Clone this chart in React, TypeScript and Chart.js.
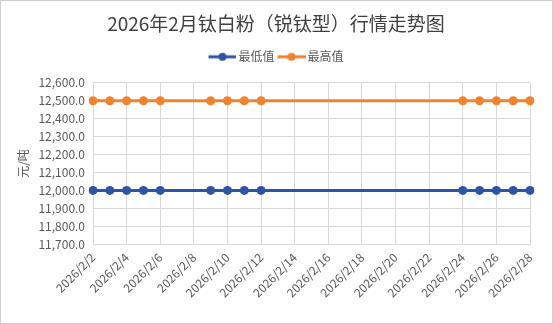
import React, { useEffect, useRef } from "react";
import { Chart, registerables } from "chart.js";

Chart.register(...registerables);

const categories = [
  "2026/2/2", "2026/2/3", "2026/2/4", "2026/2/5", "2026/2/6", "2026/2/7", "2026/2/8",
  "2026/2/9", "2026/2/10", "2026/2/11", "2026/2/12", "2026/2/13", "2026/2/14", "2026/2/15",
  "2026/2/16", "2026/2/17", "2026/2/18", "2026/2/19", "2026/2/20", "2026/2/21", "2026/2/22",
  "2026/2/23", "2026/2/24", "2026/2/25", "2026/2/26", "2026/2/27", "2026/2/28",
];

const lowValues = [
  12000, 12000, 12000, 12000, 12000, null, null,
  12000, 12000, 12000, 12000, null, null, null,
  null, null, null, null, null, null, null,
  null, 12000, 12000, 12000, 12000, 12000,
];

const highValues = [
  12500, 12500, 12500, 12500, 12500, null, null,
  12500, 12500, 12500, 12500, null, null, null,
  null, null, null, null, null, null, null,
  null, 12500, 12500, 12500, 12500, 12500,
];

const titleText = "2026年2月钛白粉（锐钛型）行情走势图";
const seriesNames = ["最低值", "最高值"];
const yTitle = "元/吨";

const BLUE = "#2F54A3";
const ORANGE = "#F0832F";
const TEXT = "#595959";
const GRID = "#d9d9d9";
const FONT = "'Noto Sans CJK SC', 'Noto Sans', sans-serif";

function legendIcon(color: string): HTMLCanvasElement {
  const c = document.createElement("canvas");
  c.width = 32;
  c.height = 10;
  const ctx = c.getContext("2d")!;
  ctx.strokeStyle = color;
  ctx.lineWidth = 3;
  ctx.beginPath();
  ctx.moveTo(4, 5);
  ctx.lineTo(32, 5);
  ctx.stroke();
  ctx.fillStyle = color;
  ctx.beginPath();
  ctx.arc(18, 5, 4, 0, Math.PI * 2);
  ctx.fill();
  return c;
}

const headerTweak = {
  id: "headerTweak",
  afterInit(chart: any) {
    const legend = chart.legend;
    if (!legend) return;
    const fit = legend.fit;
    legend.fit = function () {
      fit.call(this);
      this.height += 15;
    };
  },
  afterLayout(chart: any) {
    const shift = 3;
    for (const b of [chart.titleBlock, chart.legend]) {
      if (b) {
        b.left += shift;
        b.right += shift;
      }
    }
    if (chart.legend) {
      chart.legend.top += 5;
      chart.legend.bottom += 5;
    }
  },
};

export default function App() {
  const ref = useRef<HTMLCanvasElement | null>(null);

  useEffect(() => {
    if (!ref.current) return;
    const iconLow = legendIcon(BLUE);
    const iconHigh = legendIcon(ORANGE);
    const chart = new Chart(ref.current, {
      type: "line",
      data: {
        labels: categories,
        datasets: [
          {
            label: seriesNames[0],
            data: lowValues,
            borderColor: BLUE,
            backgroundColor: BLUE,
            borderWidth: 3,
            pointRadius: 4.5,
            pointStyle: "circle",
            pointBackgroundColor: BLUE,
            pointBorderWidth: 0,
            spanGaps: true,
          } as any,
          {
            label: seriesNames[1],
            data: highValues,
            borderColor: ORANGE,
            backgroundColor: ORANGE,
            borderWidth: 3,
            pointRadius: 4.5,
            pointStyle: "circle",
            pointBackgroundColor: ORANGE,
            pointBorderWidth: 0,
            spanGaps: true,
          } as any,
        ],
      },
      plugins: [headerTweak],
      options: {
        animation: false,
        responsive: true,
        maintainAspectRatio: false,
        layout: { padding: { left: 15, right: 22, top: 4, bottom: 17 } },
        plugins: {
          title: {
            display: true,
            text: titleText,
            color: "#404040",
            font: { family: FONT, size: 19, weight: "normal" },
            padding: { top: 7, bottom: 8 },
          },
          legend: {
            position: "top",
            labels: {
              color: TEXT,
              font: { family: FONT, size: 12 },
              usePointStyle: true,
              pointStyleWidth: 24,
              boxHeight: 10,
              padding: 3,
              generateLabels: () => [
                { text: seriesNames[0], pointStyle: iconLow, fillStyle: BLUE, strokeStyle: BLUE, lineWidth: 0, fontColor: TEXT, datasetIndex: 0 } as any,
                { text: seriesNames[1], pointStyle: iconHigh, fillStyle: ORANGE, strokeStyle: ORANGE, lineWidth: 0, fontColor: TEXT, datasetIndex: 1 } as any,
              ],
            },
          },
          tooltip: { enabled: false },
        },
        scales: {
          x: {
            offset: false,
            grid: {
              color: (ctx: any) => (ctx.index % 2 === 0 ? GRID : "rgba(0,0,0,0)"),
              drawTicks: false,
            },
            border: { color: GRID },
            ticks: {
              autoSkip: false,
              maxRotation: 45,
              minRotation: 45,
              padding: 6,
              color: TEXT,
              font: { family: FONT, size: 12 },
              callback: (_v: any, i: number) => (i % 2 === 0 ? categories[i] : ""),
            },
          },
          y: {
            min: 11700,
            max: 12600,
            grid: { color: GRID, drawTicks: false },
            border: { color: GRID },
            title: {
              display: true,
              text: yTitle,
              color: TEXT,
              font: { family: FONT, size: 12 },
              padding: { top: 0, bottom: 0 },
            },
            ticks: {
              stepSize: 100,
              padding: 8,
              color: TEXT,
              font: { family: FONT, size: 12 },
              callback: (v: any) =>
                Number(v).toLocaleString("en-US", { minimumFractionDigits: 1, maximumFractionDigits: 1 }),
            },
          },
        },
      },
    });
    return () => chart.destroy();
  }, []);

  return (
    <div
      style={{
        position: "absolute",
        left: 0,
        top: 0,
        width: 553,
        height: 324,
        boxSizing: "border-box",
        border: "1px solid #d0d0d0",
        background: "#fff",
      }}
    >
      <canvas ref={ref} />
    </div>
  );
}
